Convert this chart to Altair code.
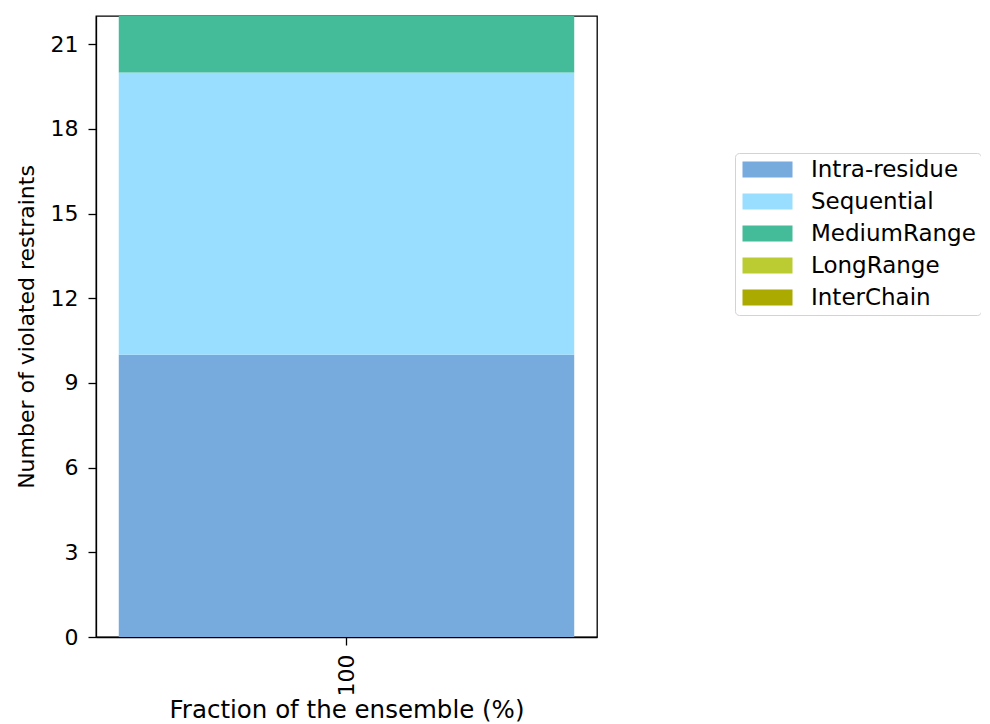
import altair as alt
import pandas as pd

# ---- data ----
categories = ["Intra-residue", "Sequential", "MediumRange", "LongRange", "InterChain"]
counts = [10, 10, 2, 0, 0]
fraction_label = "100"
colors = ["#77AADD", "#99DDFF", "#44BB99", "#BBCC33", "#AAAA00"]
y_ticks = [0, 3, 6, 9, 12, 15, 18, 21]

df = pd.DataFrame({
    "fraction": [fraction_label] * len(categories),
    "type": categories,
    "count": counts,
    "order": list(range(len(categories))),
})

FONT = "DejaVu Sans"

# wide rectangular legend swatch (about 50 x 16 px for symbolSize 256)
SWATCH = "M-3.125,-1L3.125,-1L3.125,1L-3.125,1Z"

chart = alt.Chart(df).mark_bar().encode(
    x=alt.X(
        "fraction:N",
        title="Fraction of the ensemble (%)",
        scale=alt.Scale(paddingInner=0, paddingOuter=0.05),
        axis=alt.Axis(labelAngle=270, labelAlign="right", labelBaseline="middle",
                      labelPadding=9, titlePadding=3, titleFontSize=24.5),
    ),
    y=alt.Y(
        "count:Q",
        stack="zero",
        title="Number of violated restraints",
        scale=alt.Scale(domain=[0, 22], nice=False, zero=True),
        axis=alt.Axis(values=y_ticks, labelPadding=10, titleFontSize=22,
                      titleX=-63, titleY=310.5, titleAngle=270,
                      titleAlign="center", titleBaseline="alphabetic"),
    ),
    color=alt.Color(
        "type:N",
        sort=categories,
        scale=alt.Scale(domain=categories, range=colors),
        legend=alt.Legend(
            title=None,
            orient="none",
            legendX=639,
            legendY=137,
            symbolType=SWATCH,
            symbolSize=256,
            symbolOffset=16,
            symbolStrokeWidth=0,
            labelFont=FONT,
            labelFontSize=23,
            labelColor="black",
            labelOffset=32,
            labelLimit=400,
            rowPadding=8,
            padding=5,
            strokeColor="#d3d3d3",
            fillColor="white",
            cornerRadius=4,
        ),
    ),
    order=alt.Order("order:Q"),
).properties(
    width=501,
    height=621,
    autosize=alt.AutoSizeParams(type="none"),
    padding={"left": 88, "top": 8, "right": 384, "bottom": 87},
).configure_view(
    stroke="black",
    strokeWidth=1.3,
).configure_axis(
    labelFont=FONT,
    titleFont=FONT,
    labelFontSize=22,
    labelColor="black",
    titleColor="black",
    titleFontWeight="normal",
    domainColor="black",
    domainWidth=1.3,
    tickColor="black",
    tickWidth=1.3,
    tickSize=8,
    grid=False,
)

chart.save("out.html", embed_options={"renderer": "svg", "actions": False})
